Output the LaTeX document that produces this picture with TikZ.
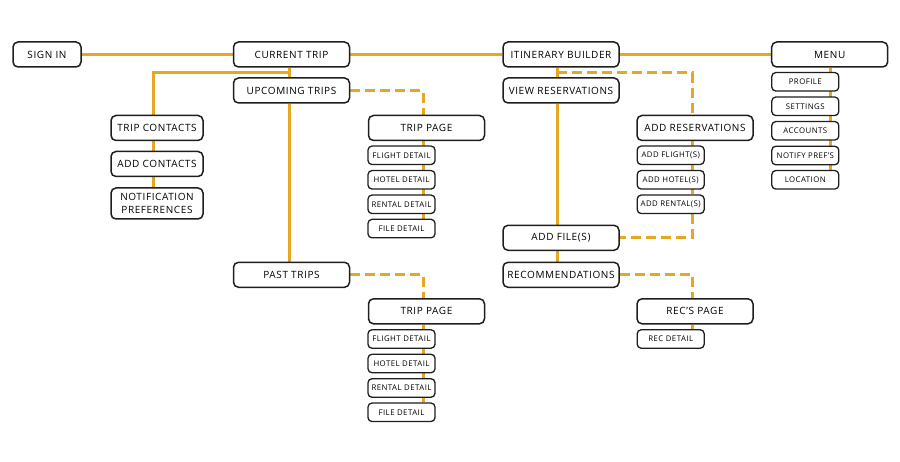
\documentclass[tikz,border=0pt]{standalone}
\usepackage{fontspec}
\setmainfont{Open Sans}[LetterSpace=6]
\usetikzlibrary{backgrounds}
\definecolor{linkyellow}{HTML}{E6A823}
\definecolor{boxline}{HTML}{1E1E1E}
\tikzset{
  bigbox/.style={draw=boxline, line width=1.5pt, rounded corners=5pt, fill=white,
    minimum width=116pt, minimum height=25pt, inner sep=1pt, align=center,
    font=\fontsize{10}{12.5}\selectfont},
  smallbox/.style={draw=boxline, line width=1.3pt, rounded corners=4pt, fill=white,
    minimum width=67pt, minimum height=18.5pt, inner sep=1pt,
    font=\fontsize{7.8}{9}\selectfont},
  link/.style={draw=linkyellow, line width=3pt},
  dlink/.style={link, dash pattern=on 10pt off 5pt}
}
\begin{document}
\begin{tikzpicture}[x=1pt,y=-1pt]
  \useasboundingbox (0,0) rectangle (900,462);

  % Top row
  \node[bigbox, minimum width=68pt] (signin) at (47,54.5) {SIGN IN};
  \node[bigbox] (current) at (291.5,54.5) {CURRENT TRIP};
  \node[bigbox] (itin) at (561,54.5) {ITINERARY BUILDER};
  \node[bigbox] (menu) at (829.7,54.5) {MENU};

  % Current trip branch
  \node[bigbox] (upcoming) at (291.5,90.5) {UPCOMING TRIPS};
  \node[bigbox] (pasttrips) at (291.5,274.8) {PAST TRIPS};
  \node[bigbox, minimum width=92pt] (contacts) at (157,128) {TRIP CONTACTS};
  \node[bigbox, minimum width=92pt] (addcontacts) at (157,164) {ADD CONTACTS};
  \node[bigbox, minimum width=92pt, minimum height=31pt] (notif) at (157,203.5) {NOTIFICATION\\PREFERENCES};

  % Trip pages
  \node[bigbox] (tripone) at (426.5,128) {TRIP PAGE};
  \node[bigbox] (triptwo) at (426.5,311.3) {TRIP PAGE};
  \foreach \y/\n in {155.3/1,339/2} {
    \node[smallbox] (flight\n) at (401.5,\y) {FLIGHT DETAIL};
    \node[smallbox] (hotel\n) at (401.5,\y+24.5) {HOTEL DETAIL};
    \node[smallbox] (rental\n) at (401.5,\y+49) {RENTAL DETAIL};
    \node[smallbox] (file\n) at (401.5,\y+73.3) {FILE DETAIL};
  }

  % Itinerary builder branch
  \node[bigbox] (viewres) at (561,90.5) {VIEW RESERVATIONS};
  \node[bigbox] (addfile) at (561,237.8) {ADD FILE(S)};
  \node[bigbox] (recs) at (561,274.8) {RECOMMENDATIONS};
  \node[bigbox] (addres) at (695,128) {ADD RESERVATIONS};
  \node[smallbox] (addflight) at (670.7,155.3) {ADD FLIGHT(S)};
  \node[smallbox] (addhotel) at (670.7,179.8) {ADD HOTEL(S)};
  \node[smallbox] (addrental) at (670.7,204.3) {ADD RENTAL(S)};
  \node[bigbox] (recpage) at (695,311.3) {REC'S PAGE};
  \node[smallbox] (recdetail) at (670.7,339) {REC DETAIL};

  % Menu items
  \node[smallbox] (profile) at (805.3,81.8) {PROFILE};
  \node[smallbox] (settings) at (805.3,106.3) {SETTINGS};
  \node[smallbox] (accounts) at (805.3,130.8) {ACCOUNTS};
  \node[smallbox] (notify) at (805.3,155.5) {NOTIFY PREF'S};
  \node[smallbox] (location) at (805.3,179.8) {LOCATION};

  % Line positions
  \coordinate (ct) at (289,72.5);
  \coordinate (cl) at (153,72.5);
  \coordinate (tx) at (423,0);
  \coordinate (ib) at (557.3,72.7);
  \coordinate (ax) at (692.3,0);
  \coordinate (mx) at (830,0);

  \begin{scope}[on background layer]
    % Main row
    \draw[link] (signin.east) -- (current.west);
    \draw[link] (current.east) -- (itin.west);
    \draw[link] (itin.east) -- (menu.west);

    % Current trip
    \draw[link] (current.south -| ct) -- (upcoming.north -| ct);
    \draw[link] (ct) -- (cl) -- (contacts.north -| cl);
    \draw[link] (contacts.south -| cl) -- (addcontacts.north -| cl);
    \draw[link] (addcontacts.south -| cl) -- (notif.north -| cl);
    \draw[link] (upcoming.south -| ct) -- (pasttrips.north -| ct);
    \draw[dlink] (upcoming.east) -| (tripone.north -| tx);
    \draw[dlink] (pasttrips.east) -| (triptwo.north -| tx);
    \draw[link] (tripone.south -| tx) -- (file1.north -| tx);
    \draw[link] (triptwo.south -| tx) -- (file2.north -| tx);

    % Itinerary builder
    \draw[link] (itin.south -| ib) -- (viewres.north -| ib);
    \draw[link] (viewres.south -| ib) -- (addfile.north -| ib);
    \draw[link] (addfile.south -| ib) -- (recs.north -| ib);
    \draw[dlink] (ib) -| (addres.north -| ax);
    \draw[link] (addres.south -| ax) -- (addrental.north -| ax);
    \draw[dlink] (addrental.south -| ax) |- (addfile.east);
    \draw[dlink] (recs.east) -| (recpage.north -| ax);
    \draw[link] (recpage.south -| ax) -- (recdetail.north -| ax);

    % Menu
    \draw[link] (menu.south -| mx) -- (location.north -| mx);
  \end{scope}
\end{tikzpicture}
\end{document}
